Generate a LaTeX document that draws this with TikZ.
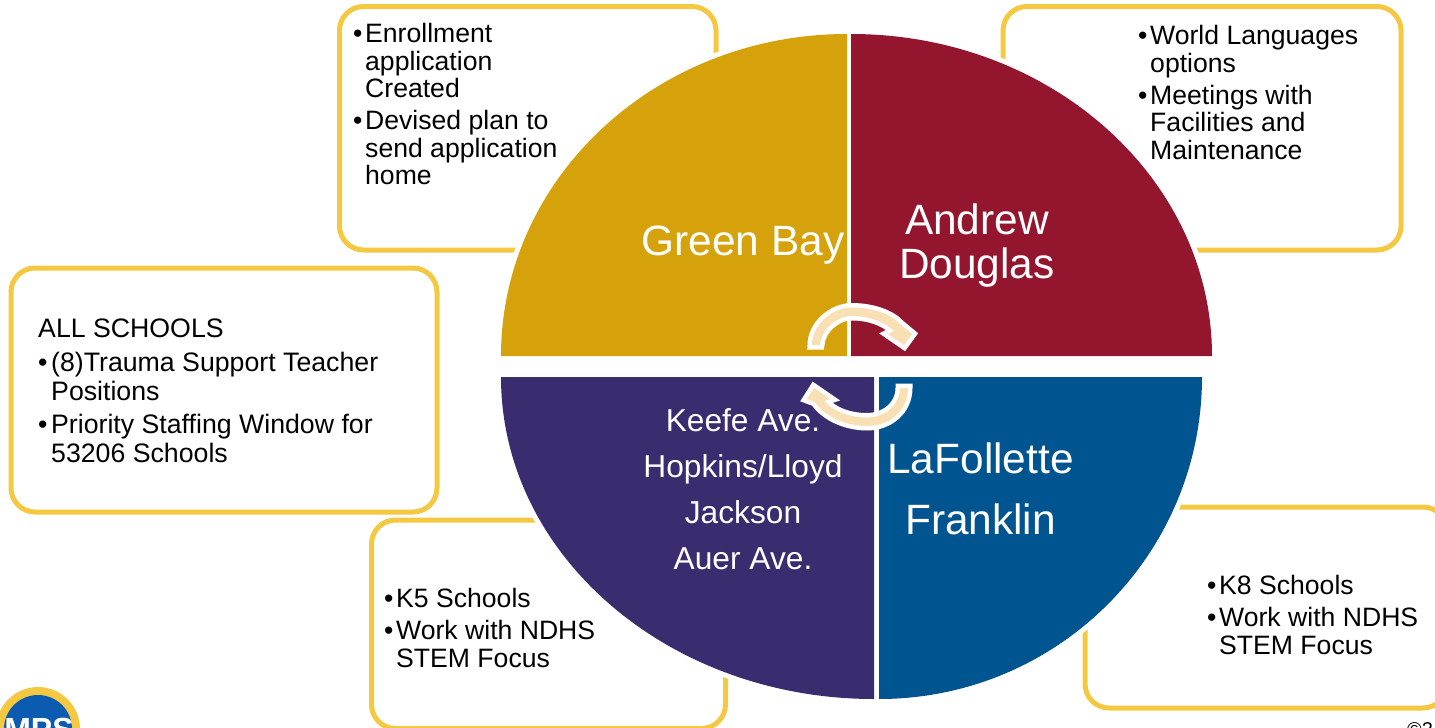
\documentclass[tikz,border=0pt]{standalone}
\usepackage{fontspec}
\setmainfont{Liberation Sans}
\definecolor{boxy}{HTML}{F5C842}
\definecolor{pgold}{HTML}{D5A20C}
\definecolor{pred}{HTML}{93162E}
\definecolor{pblue}{HTML}{00548F}
\definecolor{ppurple}{HTML}{392D70}
\definecolor{cream}{HTML}{F8E0B4}
\definecolor{mpsblue}{HTML}{0B5CB0}
\newcommand{\bul}{\makebox[12pt][l]{•}}
\newcommand{\hng}{\hspace*{12pt}}
\newcommand{\qgold}{(847,356) -- (501,356) arc[start angle=180,end angle=90,x radius=346,y radius=-322] -- cycle}
\newcommand{\qred}{(851,356) -- (851,34) arc[start angle=90,end angle=0,x radius=361,y radius=-322] -- cycle}
\newcommand{\qblue}{(879,377) -- (1202,377) arc[start angle=0,end angle=-90,x radius=323,y radius=-322] -- cycle}
\newcommand{\qpurple}{(874,377) -- (874,699) arc[start angle=-90,end angle=-180,x radius=373,y radius=-322] -- cycle}
\tikzset{
 callout/.style={draw=boxy,line width=5pt,fill=white,rounded corners=24pt},
 halo/.style={draw=white,line width=10pt},
 notes/.style={anchor=north west,align=left,inner sep=0pt,text=black,font=\fontsize{26.6}{27.6}\selectfont},
 pielabel/.style={align=center,inner sep=0pt,text=white},
 turn/.style={preaction={draw=white,line width=9pt,line join=miter,miter limit=4},fill=cream}
}
\begin{document}
\begin{tikzpicture}[x=1pt,y=-1pt]
\useasboundingbox (0,0) rectangle (1435,728);
% callouts
\draw[callout] (339.5,6.5) rectangle (716,250);
\draw[callout] (1003,6.5) rectangle (1401,250);
\draw[callout] (11,268) rectangle (437,512);
\draw[callout] (371.5,520) rectangle (725.5,728.5);
\draw[callout] (1085,507) rectangle (1447,708);
% pie
\draw[halo] \qgold; \draw[halo] \qred; \draw[halo] \qblue; \draw[halo] \qpurple;
\fill[pgold] \qgold;
\fill[pred] \qred;
\fill[pblue] \qblue;
\fill[ppurple] \qpurple;
% turning arrows
\path[turn] (812,345) .. controls (812,325) and (832,307.5) .. (852,307.5) .. controls (872,307.5) and (891,314) .. (900,324) -- (912,334) -- (904,345) -- (888,334) -- (894,331) .. controls (884,321) and (868,316) .. (852,316) .. controls (836,316) and (821,330) .. (820,345) -- cycle;
\path[turn] (900,388) .. controls (900,405) and (885,417.5) .. (867,417.5) .. controls (850,417.5) and (834,412) .. (824,401) -- (830,399) -- (814,388) -- (807,399) -- (815,402) .. controls (826,418) and (848,426) .. (867,426) .. controls (890,426) and (908,410) .. (908,388) -- cycle;
% pie labels
\node[pielabel,font=\fontsize{42.4}{44}\selectfont] (gb) at (743,245) {Green Bay};
\node[pielabel,font=\fontsize{42.4}{44}\selectfont] (ad) at (977,246) {Andrew\\Douglas};
\node[pielabel,font=\fontsize{42.4}{61}\selectfont] (lf) at (980.5,489) {LaFollette\\Franklin};
\node[pielabel,font=\fontsize{31.7}{46}\selectfont] (ke) at (743,489.5) {Keefe Ave.\\Hopkins/Lloyd\\Jackson\\Auer Ave.};
% notes
\node[notes] (n1) at (353,23) {\bul Enrollment\\\hng application\\\hng Created\\[4.5pt]\bul Devised plan to\\\hng send application\\\hng home};
\node[notes] (n2) at (1138,25) {\bul World Languages\\\hng options\\[4.5pt]\bul Meetings with\\\hng Facilities and\\\hng Maintenance};
\node[notes,font=\fontsize{26.7}{28.6}\selectfont] (n3) at (38,319) {ALL SCHOOLS\\[5pt]\makebox[13pt][l]{•}(8)Trauma Support Teacher\\\hspace*{13pt}Positions\\[5pt]\makebox[13pt][l]{•}Priority Staffing Window for\\\hspace*{13pt}53206 Schools};
\node[notes] (n4) at (384,588) {\bul K5 Schools\\[4.5pt]\bul Work with NDHS\\\hng STEM Focus};
\node[notes] (n5) at (1207,575) {\bul K8 Schools\\[4.5pt]\bul Work with NDHS\\\hng STEM Focus};
% logo
\fill[boxy] (38,729) circle[radius=42];
\fill[mpsblue] (38,729) circle[radius=34];
\node[inner sep=0pt,text=white,font=\fontsize{32}{32}\bfseries\selectfont,anchor=north] (logo) at (39,718) {MPS};
\node[inner sep=0pt,anchor=north west,text=black,font=\fontsize{20}{20}\selectfont] (copy) at (1407,722) {©2};
\end{tikzpicture}
\end{document}
